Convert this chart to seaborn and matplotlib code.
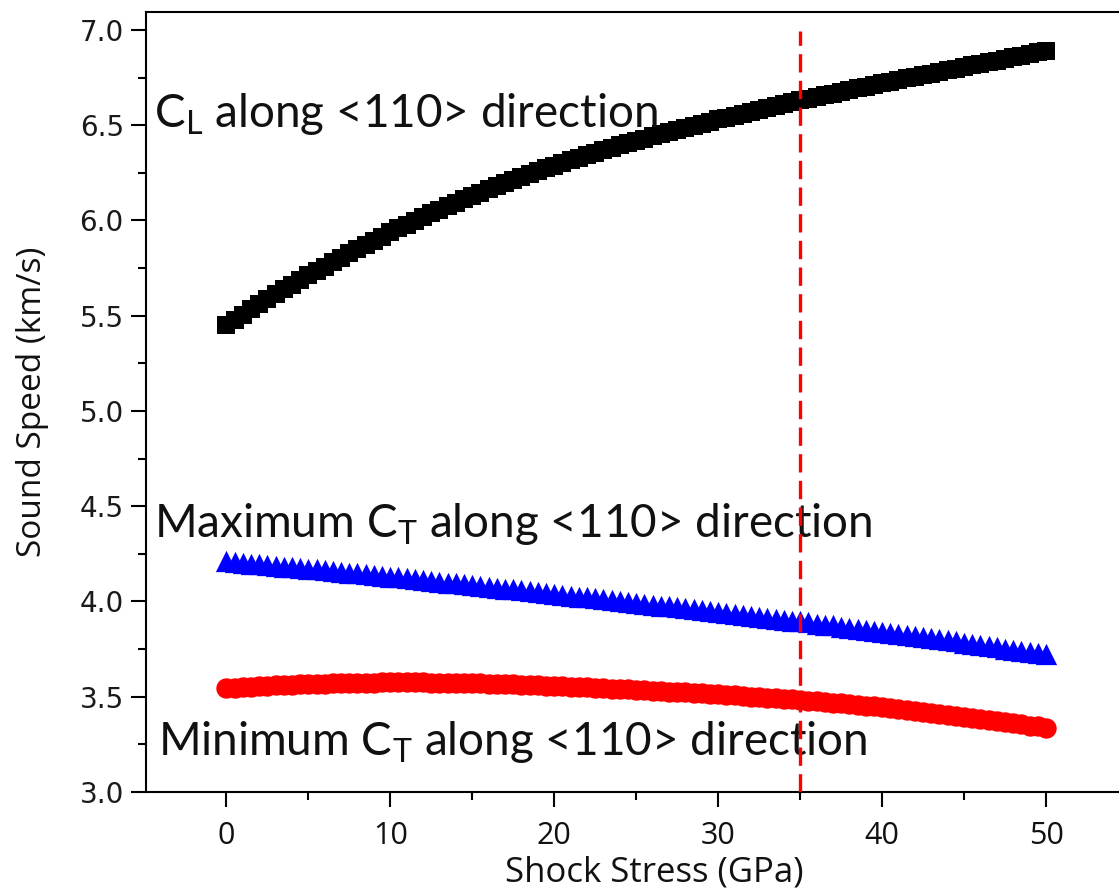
import numpy as np
import pandas as pd
import matplotlib
matplotlib.use("Agg")
import matplotlib.pyplot as plt
import seaborn as sns
from matplotlib.ticker import MultipleLocator

# ---------------- data ----------------
stress = np.arange(0, 50.5, 0.5)  # GPa sampling grid

cl_110 = [5.450, 5.478, 5.506, 5.533, 5.560, 5.586, 5.612, 5.638, 5.663, 5.687,
          5.711, 5.735, 5.758, 5.781, 5.804, 5.827, 5.849, 5.871, 5.893, 5.915,
          5.937, 5.958, 5.978, 5.998, 6.018, 6.037, 6.056, 6.075, 6.093, 6.111,
          6.129, 6.146, 6.163, 6.180, 6.196, 6.212, 6.228, 6.243, 6.258, 6.273,
          6.287, 6.301, 6.315, 6.329, 6.342, 6.355, 6.368, 6.381, 6.394, 6.406,
          6.418, 6.430, 6.442, 6.453, 6.464, 6.475, 6.486, 6.497, 6.508, 6.519,
          6.530, 6.540, 6.550, 6.560, 6.570, 6.580, 6.590, 6.600, 6.610, 6.620,
          6.630, 6.639, 6.648, 6.657, 6.666, 6.675, 6.684, 6.693, 6.702, 6.711,
          6.720, 6.729, 6.737, 6.746, 6.754, 6.763, 6.771, 6.780, 6.788, 6.797,
          6.805, 6.814, 6.822, 6.831, 6.839, 6.848, 6.856, 6.865, 6.873, 6.882,
          6.890]

ct_max_110 = [4.210, 4.206, 4.202, 4.199, 4.195, 4.191, 4.187, 4.183, 4.180, 4.176,
              4.172, 4.168, 4.164, 4.159, 4.155, 4.151, 4.147, 4.143, 4.139, 4.134,
              4.130, 4.126, 4.121, 4.117, 4.112, 4.108, 4.104, 4.099, 4.095, 4.090,
              4.086, 4.081, 4.077, 4.072, 4.068, 4.063, 4.058, 4.054, 4.049, 4.045,
              4.040, 4.035, 4.031, 4.026, 4.021, 4.017, 4.012, 4.007, 4.002, 3.998,
              3.993, 3.988, 3.983, 3.978, 3.974, 3.969, 3.964, 3.959, 3.954, 3.950,
              3.945, 3.940, 3.935, 3.930, 3.925, 3.920, 3.915, 3.910, 3.905, 3.900,
              3.895, 3.890, 3.884, 3.879, 3.874, 3.868, 3.863, 3.858, 3.852, 3.847,
              3.842, 3.836, 3.830, 3.824, 3.819, 3.813, 3.807, 3.801, 3.796, 3.790,
              3.784, 3.778, 3.772, 3.765, 3.759, 3.753, 3.747, 3.740, 3.734, 3.728,
              3.722]

ct_min_110 = [3.545, 3.548, 3.550, 3.553, 3.555, 3.557, 3.559, 3.561, 3.563, 3.565,
              3.566, 3.567, 3.569, 3.570, 3.571, 3.572, 3.573, 3.574, 3.574, 3.575,
              3.575, 3.575, 3.575, 3.575, 3.575, 3.574, 3.574, 3.573, 3.573, 3.572,
              3.572, 3.571, 3.569, 3.568, 3.566, 3.565, 3.563, 3.561, 3.559, 3.558,
              3.557, 3.555, 3.553, 3.551, 3.549, 3.547, 3.545, 3.543, 3.541, 3.539,
              3.537, 3.535, 3.532, 3.530, 3.527, 3.525, 3.523, 3.520, 3.518, 3.515,
              3.513, 3.510, 3.507, 3.504, 3.501, 3.498, 3.495, 3.492, 3.489, 3.486,
              3.483, 3.479, 3.476, 3.472, 3.469, 3.465, 3.461, 3.458, 3.454, 3.451,
              3.447, 3.442, 3.437, 3.431, 3.426, 3.421, 3.416, 3.411, 3.405, 3.400,
              3.395, 3.389, 3.384, 3.378, 3.372, 3.367, 3.361, 3.355, 3.349, 3.344,
              3.338]

marker_stress = 35  # GPa, dashed reference line

x_ticks = [0, 10, 20, 30, 40, 50]
y_ticks = [3.0, 3.5, 4.0, 4.5, 5.0, 5.5, 6.0, 6.5, 7.0]

df = pd.DataFrame({"stress": stress, "cl": cl_110,
                   "ctmax": ct_max_110, "ctmin": ct_min_110})

# ---------------- style ----------------
sns.set_theme(style="ticks")
plt.rcParams["font.family"] = ["Lato", "DejaVu Sans"]
plt.rcParams["axes.linewidth"] = 1.5

fig = plt.figure(figsize=(11.19, 8.88), dpi=100)
ax = fig.add_axes([146 / 1119, 1 - 792 / 888, 1 - 146 / 1119, (792 - 12) / 888])

sns.scatterplot(data=df, x="stress", y="cl", marker="s", s=160, color="black",
                edgecolor="black", linewidth=0, ax=ax, zorder=3)
sns.scatterplot(data=df, x="stress", y="ctmax", marker="^", s=235, color="#0000ff",
                edgecolor="#0000ff", linewidth=0, ax=ax, zorder=3)
sns.scatterplot(data=df, x="stress", y="ctmin", marker="o", s=215, color="#ff0000",
                edgecolor="#ff0000", linewidth=0, ax=ax, zorder=3)

ax.axvline(marker_stress, ymin=0, ymax=0.975, color="#ff0000", lw=2.4,
           dashes=(5.5, 2.5), zorder=4)

ax.set_xlim(-4.9, 54.45)
ax.set_ylim(3.0, 7.094)
ax.set_xticks(x_ticks, [str(v) for v in x_ticks])
ax.set_yticks(y_ticks, [f"{v:.1f}" for v in y_ticks])
ax.xaxis.set_minor_locator(MultipleLocator(5))
ax.yaxis.set_minor_locator(MultipleLocator(0.25))
ax.tick_params(axis="both", which="major", length=11, width=1.5, color="black",
               direction="out")
ax.tick_params(axis="both", which="minor", length=6, width=1.5, color="black",
               direction="out")
ax.tick_params(axis="y", which="major", pad=5, labelsize=20,
               labelfontfamily="DejaVu Sans", labelcolor="#1a1a1a")
ax.tick_params(axis="x", which="major", pad=10, labelsize=22,
               labelfontfamily="Open Sans", labelcolor="#111111")
ax.spines["right"].set_visible(False)
for s in ["left", "bottom", "top"]:
    ax.spines[s].set_color("black")

ax.set_xlabel("Shock Stress (GPa)", family="Open Sans", fontsize=25, color="#111111")
ax.set_ylabel("Sound Speed (km/s)", family="Open Sans", fontsize=24, color="#111111")
ax.xaxis.set_label_coords(0.522, -0.082)
ax.yaxis.set_label_coords(-0.1, 0.5)

txt_kw = dict(family=["Lato", "DejaVu Sans"], fontsize=33, color="#111111",
              ha="left", va="baseline")
ax.text(0.008, 0.852, r"C$_\mathregular{L}$ along <110> direction",
        transform=ax.transAxes, **txt_kw)
ax.text(0.008, 0.327, r"Maximum C$_\mathregular{T}$ along <110> direction",
        transform=ax.transAxes, **txt_kw)
ax.text(0.012, 0.047, r"Minimum C$_\mathregular{T}$ along <110> direction",
        transform=ax.transAxes, **txt_kw)

fig.savefig("out.png", dpi=100)
